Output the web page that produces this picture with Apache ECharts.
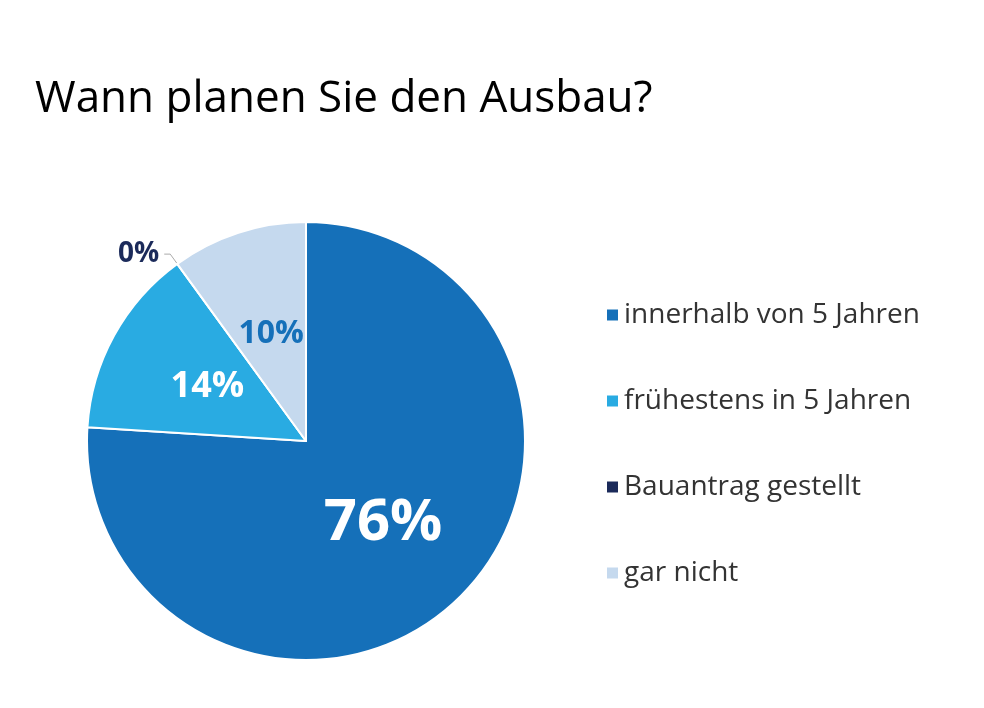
<!DOCTYPE html>
<html><head><meta charset="utf-8">
<script src="https://cdn.jsdelivr.net/npm/echarts@6/dist/echarts.min.js"></script>
<style>html,body{margin:0;background:#fff}#c{width:984px;height:708px}</style>
</head><body><div id="c"></div>
<script>
const categories = ['innerhalb von 5 Jahren','frühestens in 5 Jahren','Bauantrag gestellt','gar nicht'];
const values = [76, 14, 0, 10];
const colors = ['#1570b9','#29abe2','#1b2a5a','#c5d9ee'];
const labelColors = ['#fff','#fff','#1b2a5a','#1570b9'];
const labelSizes = [58, 36, 28, 32];
const chart = echarts.init(document.getElementById('c'));
chart.setOption({
  animation:false,
  title:{text:'Wann planen Sie den Ausbau?',left:30,top:72,textStyle:{fontFamily:'Open Sans',fontSize:44,fontWeight:'normal',color:'#000'}},
  legend:{orient:'vertical',left:600,top:296,itemGap:58,itemWidth:13,itemHeight:13,icon:'rect',
    textStyle:{fontFamily:'Open Sans',fontSize:28,color:'#333'},data:categories},
  series:[{type:'pie',center:[306,441],radius:219,startAngle:90,clockwise:true,
    stillShowZeroSum:true,minAngle:0,
    itemStyle:{borderColor:'#fff',borderWidth:2},
    labelLine:{show:false},
    data:categories.map((n,i)=>({name:n,value:values[i],itemStyle:{color:colors[i]},
      label:i===2?{show:true,position:'outside',formatter:'{c}%',color:labelColors[i],fontSize:labelSizes[i],fontWeight:'bold',fontFamily:'Open Sans'}
        :{show:true,position:'inside',formatter:'{c}%',color:labelColors[i],fontSize:labelSizes[i],fontWeight:'bold',fontFamily:'Open Sans'},
      labelLine:i===2?{show:true,length:12,length2:6,lineStyle:{color:'#aaa'}}:{show:false}
    }))
  }]
});
</script></body></html>
